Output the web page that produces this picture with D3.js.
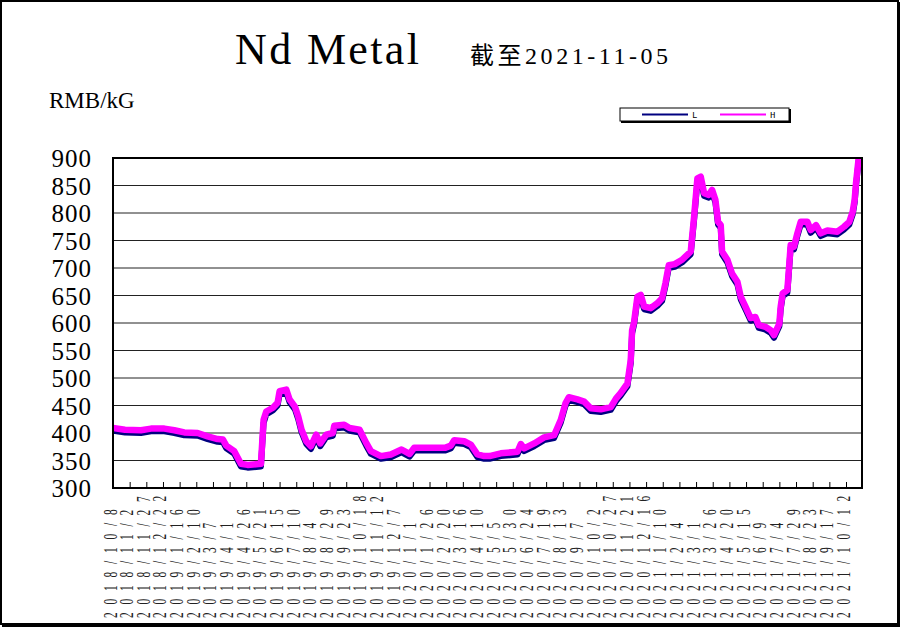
<!DOCTYPE html>
<html><head><meta charset="utf-8">
<script src="https://cdn.jsdelivr.net/npm/d3@7"></script>
<style>body{margin:0;background:#fff}svg{display:block}</style>
</head><body><svg id="c" width="901" height="628"></svg>
<script>
const dates = ["2018-10-08","2018-10-26","2018-11-19","2018-12-04","2018-12-24","2019-01-08","2019-01-23","2019-02-12","2019-02-27","2019-03-14","2019-03-22","2019-03-27","2019-04-08","2019-04-18","2019-04-28","2019-05-18","2019-05-22","2019-05-26","2019-06-05","2019-06-12","2019-06-15","2019-06-25","2019-06-30","2019-07-08","2019-07-13","2019-07-18","2019-07-25","2019-08-01","2019-08-09","2019-08-15","2019-08-24","2019-09-03","2019-09-05","2019-09-20","2019-09-28","2019-10-13","2019-10-23","2019-10-30","2019-11-14","2019-11-29","2019-12-15","2019-12-27","2020-01-03","2020-01-23","2020-02-18","2020-02-27","2020-03-03","2020-03-18","2020-03-28","2020-04-07","2020-04-17","2020-04-25","2020-05-12","2020-06-06","2020-06-11","2020-06-16","2020-07-01","2020-07-16","2020-07-31","2020-08-10","2020-08-17","2020-08-22","2020-09-04","2020-09-14","2020-09-24","2020-10-09","2020-10-24","2020-11-01","2020-11-08","2020-11-18","2020-11-23","2020-11-25","2020-11-28","2020-12-03","2020-12-08","2020-12-13","2020-12-23","2021-01-02","2021-01-09","2021-01-14","2021-01-19","2021-01-28","2021-02-08","2021-02-21","2021-02-26","2021-03-03","2021-03-08","2021-03-13","2021-03-20","2021-03-25","2021-03-30","2021-04-03","2021-04-07","2021-04-09","2021-04-17","2021-04-24","2021-05-02","2021-05-07","2021-05-14","2021-05-22","2021-05-29","2021-06-03","2021-06-13","2021-06-21","2021-06-26","2021-07-04","2021-07-06","2021-07-09","2021-07-16","2021-07-19","2021-07-21","2021-07-26","2021-07-31","2021-08-05","2021-08-15","2021-08-20","2021-08-28","2021-09-04","2021-09-14","2021-09-29","2021-10-09","2021-10-17","2021-10-22","2021-10-25","2021-10-27","2021-10-31"];
const hValues = [409,406,405,408,408,405,401,400,394,389,388,377,367,344,342,344,424,439,446,455,476,479,461,448,430,406,385,376,397,381,397,400,413,415,409,406,382,367,358,361,370,362,373,373,373,377,387,385,379,361,358,358,363,366,380,372,381,392,396,424,454,465,461,457,445,443,447,463,473,490,533,587,602,648,651,630,627,636,645,672,705,707,715,730,793,863,866,836,833,842,824,784,778,730,715,690,675,648,630,609,611,596,593,587,578,599,630,654,660,709,742,739,763,784,784,769,778,763,768,766,775,784,802,824,854,900];
const lValues = [404,401,400,403,403,400,396,395,389,384,383,372,362,339,337,339,418,434,441,450,470,474,456,443,425,401,380,371,392,376,392,395,408,410,404,401,377,362,353,356,365,357,368,368,368,372,382,380,374,356,353,353,358,361,375,367,376,387,391,419,449,460,456,452,440,438,442,458,468,485,527,581,597,643,646,625,622,631,640,667,700,702,710,725,787,857,860,831,828,837,819,779,773,725,710,685,670,643,625,604,606,591,588,582,573,594,625,649,655,704,737,734,758,779,779,764,773,758,763,761,770,779,797,819,849,895];
const yTickValues = [300,350,400,450,500,550,600,650,700,750,800,850,900];
const xTickLabels = ["2018/10/8","2018/11/2","2018/11/27","2018/12/22","2019/1/16","2019/2/10","2019/3/7","2019/4/1","2019/4/26","2019/5/21","2019/6/15","2019/7/10","2019/8/4","2019/8/29","2019/9/23","2019/10/18","2019/11/12","2019/12/7","2020/1/1","2020/1/26","2020/2/20","2020/3/16","2020/4/10","2020/5/5","2020/5/30","2020/6/24","2020/7/19","2020/8/13","2020/9/7","2020/10/2","2020/10/27","2020/11/21","2020/12/16","2021/1/10","2021/2/4","2021/3/1","2021/3/26","2021/4/20","2021/5/15","2021/6/9","2021/7/4","2021/7/29","2021/8/23","2021/9/17","2021/10/12"];
const seriesNames = ["L","H"];
const seriesColors = ["#000080","#FF00FF"];

const svg = d3.select("#c");
const parseISO = d3.timeParse("%Y-%m-%d");
const parseLab = d3.timeParse("%Y/%m/%d");
const L = 113, R = 862, T = 158, B = 488;
const x = d3.scaleTime().domain([parseISO("2018-10-08"), parseISO("2021-11-05")]).range([L, R]);
const y = d3.scaleLinear().domain([300, 900]).range([B, T]);
const serif = "'Liberation Serif','DejaVu Serif',serif";

svg.append("rect").attr("width",901).attr("height",628).attr("fill","#fff");
// outer border
svg.append("rect").attr("x",1).attr("y",1).attr("width",897).attr("height",623)
  .attr("fill","none").attr("stroke","#000").attr("stroke-width",2);
svg.append("path").attr("d","M899,2V626H2").attr("fill","none").attr("stroke","#000").attr("stroke-width",2);

// x tick labels (drawn first, plot covers overflow)
svg.append("g").selectAll("text").data(xTickLabels).join("text")
  .attr("transform", d => `translate(${x(parseLab(d))+3.5},618) rotate(-90) scale(0.6,1)`)
  .attr("font-family", serif).attr("font-size", 19).attr("letter-spacing", 13)
  .attr("fill","#222").text(d => d);

// plot area
svg.append("rect").attr("x",L).attr("y",T).attr("width",R-L).attr("height",B-T).attr("fill","#fff");

// gridlines
svg.append("g").selectAll("line").data(yTickValues.slice(1,-1)).join("line")
  .attr("x1",L).attr("x2",R).attr("y1",d=>y(d)).attr("y2",d=>y(d))
  .attr("stroke","#222").attr("stroke-width",1);

// x ticks (inside, upward)
const xAxis = d3.axisTop(x).tickValues(xTickLabels.map(parseLab)).tickSize(6).tickFormat("");
const gx = svg.append("g").attr("transform",`translate(0,${B})`).call(xAxis);
gx.select(".domain").remove();
gx.selectAll("line").attr("stroke","#000");

// y tick labels
const yAxis = d3.axisLeft(y).tickValues(yTickValues).tickSize(0).tickPadding(21);
const gy = svg.append("g").attr("transform",`translate(${L},0)`).call(yAxis);
gy.select(".domain").remove();
gy.selectAll("text").attr("font-family", serif).attr("font-size", 25).attr("letter-spacing",1).attr("fill","#000").attr("dy","0.35em");

// lines
svg.append("clipPath").attr("id","pc").append("rect").attr("x",L).attr("y",T-1).attr("width",R-L).attr("height",B-T+1);
const line = d3.line().x(d=>x(d[0])).y(d=>y(d[1]));
const seriesData = [lValues, hValues].map(vals => dates.map((d,i)=>[parseISO(d), vals[i]]));
svg.append("g").attr("clip-path","url(#pc)").selectAll("path").data(seriesData).join("path")
  .attr("d", line).attr("fill","none").attr("stroke",(d,i)=>seriesColors[i])
  .attr("stroke-width",(d,i)=>i?6.5:6).attr("stroke-linejoin","round").attr("stroke-linecap","round");

// frame
svg.append("rect").attr("x",L).attr("y",T).attr("width",R-L).attr("height",B-T)
  .attr("fill","none").attr("stroke","#000").attr("stroke-width",2);

// titles
svg.append("text").attr("x",235).attr("y",64).attr("font-family",serif).attr("font-size",44)
  .attr("textLength",184).attr("lengthAdjust","spacing").attr("fill","#000").text("Nd Metal");
svg.append("text").attr("x",470).attr("y",64).attr("font-family","'Liberation Serif','Noto Sans CJK SC',serif").attr("font-size",24)
  .attr("textLength",198).attr("lengthAdjust","spacing").attr("fill","#000").text("截至2021-11-05");
svg.append("text").attr("x",49).attr("y",108).attr("font-family",serif).attr("font-size",23)
  .attr("fill","#000").text("RMB/kG");

// legend
const lg = svg.append("g");
lg.append("rect").attr("x",621).attr("y",109).attr("width",170).attr("height",14).attr("fill","#000");
lg.append("rect").attr("x",620).attr("y",108).attr("width",169).attr("height",13).attr("fill","#fff").attr("stroke","#000").attr("stroke-width",1);
seriesNames.forEach((n,i)=>{
  const x0 = 642 + i*78;
  lg.append("line").attr("x1",x0).attr("x2",x0+46).attr("y1",114.5).attr("y2",114.5).attr("stroke",seriesColors[i]).attr("stroke-width",2);
  lg.append("text").attr("x",x0+50).attr("y",118).attr("font-family","'Liberation Mono',monospace").attr("font-size",9).attr("fill","#000").text(n);
});
</script></body></html>
